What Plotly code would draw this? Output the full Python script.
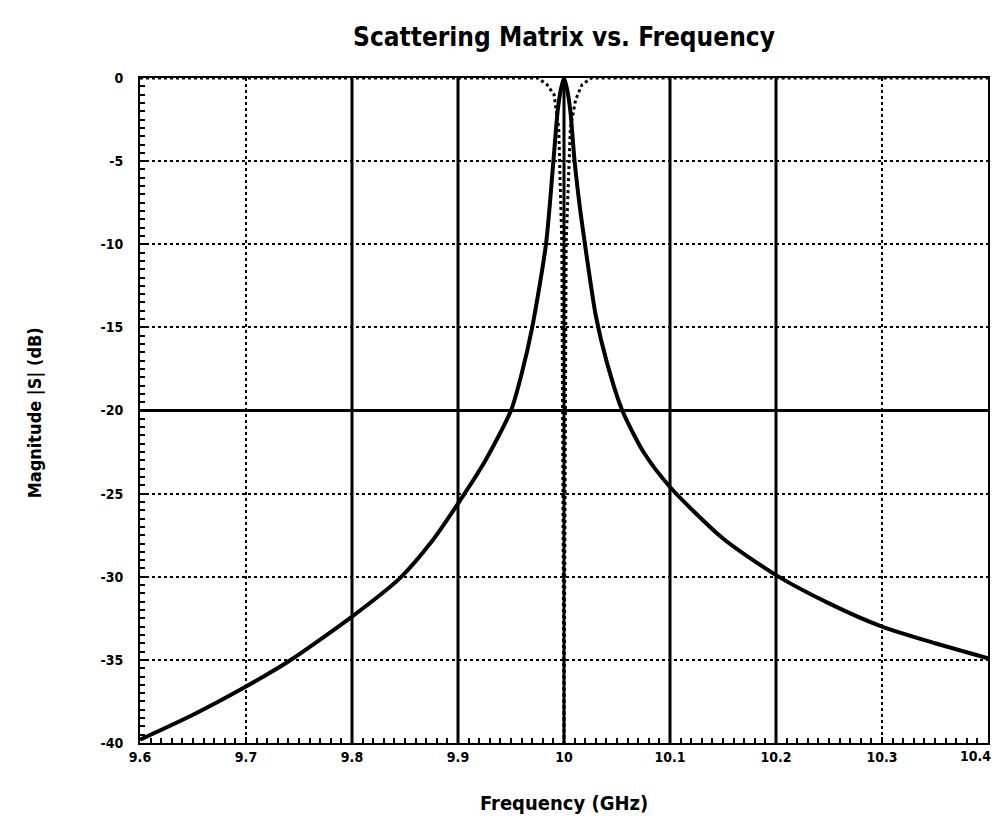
import plotly.graph_objects as go

# ---- data ----
s21_freq = [9.600, 9.650, 9.700, 9.740, 9.800, 9.845, 9.875, 9.900, 9.925, 9.950,
            9.960, 9.970, 9.983, 9.990, 9.994, 9.997, 10.000, 10.003, 10.006, 10.010,
            10.015, 10.020, 10.025, 10.030, 10.040, 10.055, 10.075, 10.100, 10.150,
            10.200, 10.250, 10.300, 10.350, 10.400]
s21_db = [-39.8, -38.3, -36.6, -35.1, -32.4, -30.1, -27.9, -25.6, -23.1, -20.0,
          -17.8, -15.0, -10.0, -5.0, -2.0, -0.7, 0.0, -0.7, -2.0, -5.0,
          -7.8, -10.1, -12.3, -14.3, -17.0, -20.0, -22.5, -24.6, -27.7,
          -29.9, -31.6, -33.0, -34.0, -34.9]

s11_freq = [9.600, 9.700, 9.800, 9.900, 9.950, 9.975, 9.984, 9.9906, 9.995, 9.998,
            10.000, 10.002, 10.006, 10.011, 10.017, 10.026, 10.050, 10.100, 10.200,
            10.300, 10.400]
s11_db = [0.0, 0.0, 0.0, 0.0, 0.0, 0.0, -0.4, -1.0, -3.0, -10.0,
          -40.0, -10.0, -3.0, -1.3, -0.4, 0.0, 0.0, 0.0, 0.0,
          0.0, 0.0]

x_tick_vals = [9.6, 9.7, 9.8, 9.9, 10.0, 10.1, 10.2, 10.3, 10.4]
x_tick_text = ["9.6", "9.7", "9.8", "9.9", "10", "10.1", "10.2", "10.3", "10.4"]
y_tick_vals = [0, -5, -10, -15, -20, -25, -30, -35, -40]
y_tick_text = ["0", "-5", "-10", "-15", "-20", "-25", "-30", "-35", "-40"]

solid_x_grid = [9.8, 9.9, 10.0, 10.1, 10.2]
solid_y_grid = [-20]

title_text = "Scattering Matrix vs. Frequency"
x_title = "Frequency (GHz)"
y_title = "Magnitude |S| (dB)"

FONT = "DejaVu Sans Condensed, Liberation Sans Narrow, Arial Narrow, sans-serif"
TICK_FONT = dict(family=FONT, size=14, color="black", weight="bold")

fig = go.Figure()
fig.add_trace(go.Scatter(x=s11_freq, y=s11_db, mode="lines",
                         line=dict(color="black", width=3, dash="dot"),
                         name="S11", showlegend=False))
fig.add_trace(go.Scatter(x=s21_freq, y=s21_db, mode="lines",
                         line=dict(color="black", width=4, shape="spline", smoothing=0.7),
                         name="S21", showlegend=False))

shapes = []
for xv in solid_x_grid:
    shapes.append(dict(type="line", xref="x", yref="paper", x0=xv, x1=xv, y0=0, y1=1,
                       line=dict(color="black", width=3), layer="below"))
for yv in solid_y_grid:
    shapes.append(dict(type="line", xref="paper", yref="y", x0=0, x1=1, y0=yv, y1=yv,
                       line=dict(color="black", width=3), layer="below"))

# page body has an 8px margin: size the figure so the plot lands where the reference has it
W, H = 994, 808
fig.update_layout(
    width=W, height=H,
    margin=dict(l=132, r=14, t=70, b=73),
    paper_bgcolor="white", plot_bgcolor="white",
    shapes=shapes,
    title=dict(text=title_text, x=0.5, xref="paper", xanchor="center",
               y=1 - 29 / H, yref="container", yanchor="middle",
               font=dict(family=FONT, size=26, color="black", weight="bold")),
    annotations=[
        dict(text=x_title, xref="paper", yref="paper", x=0.5, y=-0.09,
             xanchor="center", yanchor="middle", showarrow=False,
             font=dict(family=FONT, size=20, color="black", weight="bold")),
        dict(text=y_title, xref="paper", yref="paper", x=-0.124, y=0.497,
             xanchor="center", yanchor="middle", showarrow=False, textangle=-90,
             font=dict(family=FONT, size=18, color="black", weight="bold")),
        # last x tick label sits just left of its tick in the reference (kept inside the page)
        dict(text=x_tick_text[-1], xref="x", yref="paper", x=x_tick_vals[-1], y=0,
             xanchor="right", yanchor="top", xshift=5, yshift=-3, showarrow=False,
             font=TICK_FONT),
    ],
)

fig.update_xaxes(
    range=[9.6, 10.4], tickvals=x_tick_vals, ticktext=x_tick_text[:-1] + [""],
    automargin=False, ticklabeloverflow="allow",
    showgrid=True, gridcolor="black", gridwidth=1.5, griddash="dot",
    zeroline=False, showline=True, linecolor="black", linewidth=2, mirror=True,
    ticks="inside", ticklen=6, tickwidth=2, tickcolor="black",
    minor=dict(dtick=0.01, ticks="inside", ticklen=5, tickwidth=2, tickcolor="black",
               showgrid=False),
    tickfont=TICK_FONT,
)
fig.update_yaxes(
    range=[-40, 0], tickvals=y_tick_vals, ticktext=y_tick_text, automargin=False,
    showgrid=True, gridcolor="black", gridwidth=1.5, griddash="dot",
    zeroline=False, showline=True, linecolor="black", linewidth=2, mirror=True,
    ticks="inside", ticklen=6, tickwidth=2, tickcolor="black", ticklabelstandoff=12,
    minor=dict(dtick=0.5, ticks="inside", ticklen=5, tickwidth=2, tickcolor="black",
               showgrid=False),
    tickfont=TICK_FONT,
)

fig.write_html("out.html")
